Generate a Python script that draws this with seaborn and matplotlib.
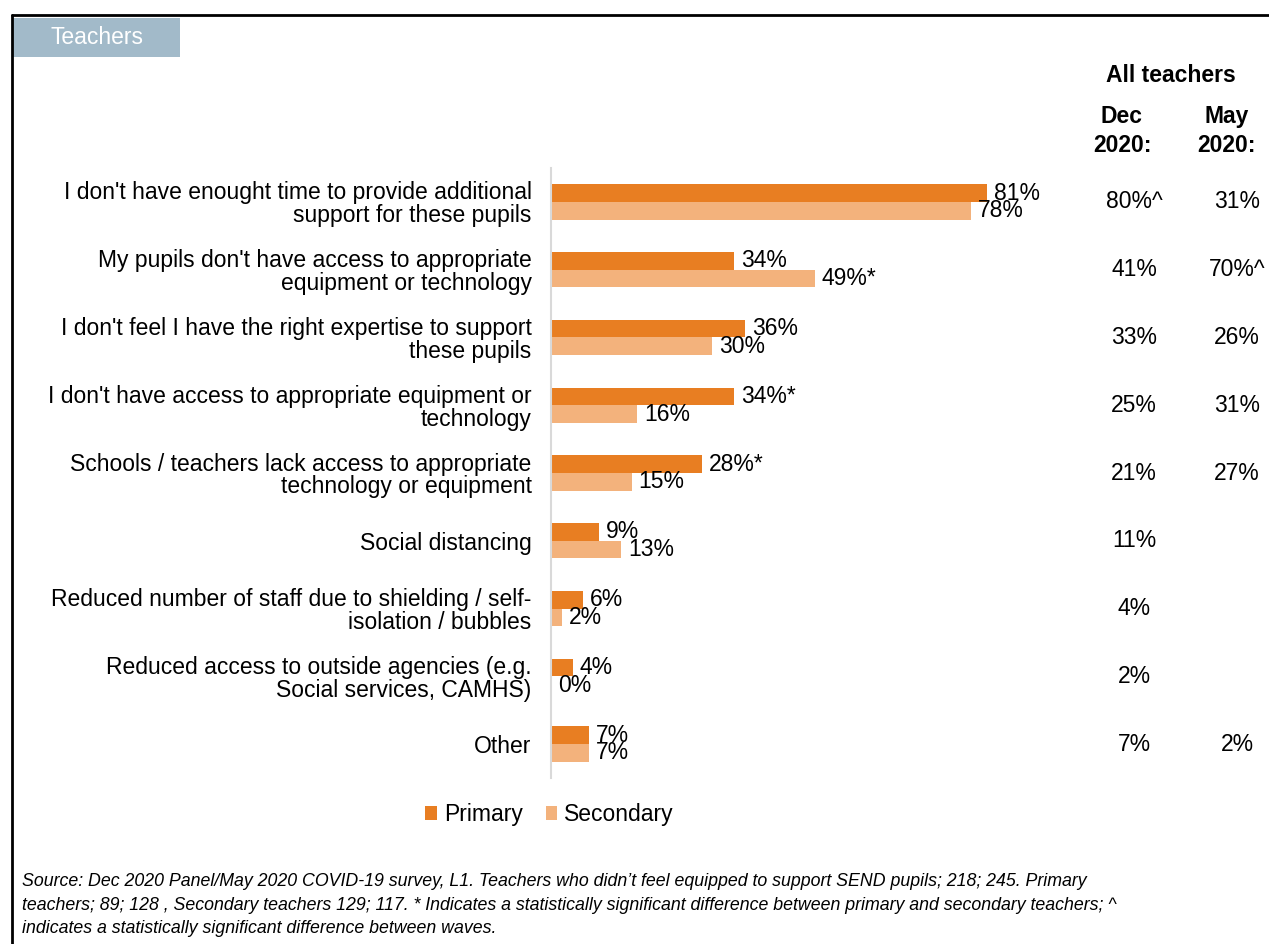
import pandas as pd
import matplotlib.pyplot as plt
import seaborn as sns
from matplotlib.lines import Line2D
from matplotlib.patches import Rectangle
import matplotlib.transforms as mtransforms

# --- Data ---
categories = [
    "I don't have enought time to provide additional\nsupport for these pupils",
    "My pupils don't have access to appropriate\nequipment or technology",
    "I don't feel I have the right expertise to support\nthese pupils",
    "I don't have access to appropriate equipment or\ntechnology",
    "Schools / teachers lack access to appropriate\ntechnology or equipment",
    "Social distancing",
    "Reduced number of staff due to shielding / self-\nisolation / bubbles",
    "Reduced access to outside agencies (e.g.\nSocial services, CAMHS)",
    "Other",
]
primary = [81, 34, 36, 34, 28, 9, 6, 4, 7]
secondary = [78, 49, 30, 16, 15, 13, 2, 0, 7]
primary_labels = ["81%", "34%", "36%", "34%*", "28%*", "9%", "6%", "4%", "7%"]
secondary_labels = ["78%", "49%*", "30%", "16%", "15%", "13%", "2%", "0%", "7%"]
dec_2020 = ["80%^", "41%", "33%", "25%", "21%", "11%", "4%", "2%", "7%"]
may_2020 = ["31%", "70%^", "26%", "31%", "27%", "", "", "", "2%"]

source_note = (
    "Source: Dec 2020 Panel/May 2020 COVID-19 survey, L1. Teachers who didn\u2019t feel equipped to support SEND pupils; 218; 245. Primary\n"
    "teachers; 89; 128 , Secondary teachers 129; 117. * Indicates a statistically significant difference between primary and secondary teachers; ^\n"
    "indicates a statistically significant difference between waves."
)

df = pd.DataFrame({
    "category": categories * 2,
    "value": primary + secondary,
    "group": ["Primary"] * len(categories) + ["Secondary"] * len(categories),
})

sns.set_style("white")
plt.rcParams["font.family"] = ["Liberation Sans", "DejaVu Sans"]
plt.rcParams["text.color"] = "black"
plt.rcParams["ytick.color"] = "black"

FS = 16.5

fig = plt.figure(figsize=(12.69, 9.44), dpi=100)
ax = fig.add_axes([551 / 1269, 1 - 778 / 944, 538 / 1269, 610 / 944])

palette = {"Primary": "#E87E22", "Secondary": "#F3B27C"}
sns.barplot(data=df, x="value", y="category", hue="group", palette=palette,
            orient="h", width=0.52, gap=0, saturation=1, linewidth=0,
            ax=ax, legend=True)

ax.set_xlim(0, 100)
ax.set_ylim(len(categories) - 0.5, -0.5)
ax.set_xlabel("")
ax.set_ylabel("")
ax.set_xticks([])
ax.tick_params(axis="y", length=0, pad=14, labelsize=FS, labelcolor="black")
for lbl in ax.get_yticklabels():
    lbl.set_horizontalalignment("right")
    lbl.set_multialignment("right")
    lbl.set_linespacing(1.0)
for side in ["top", "right", "bottom"]:
    ax.spines[side].set_visible(False)
ax.spines["left"].set_color("#D9D9D9")
ax.spines["left"].set_linewidth(1.5)

ax.bar_label(ax.containers[0], labels=primary_labels, padding=5, fontsize=FS)
ax.bar_label(ax.containers[1], labels=secondary_labels, padding=5, fontsize=FS)

sns.move_legend(ax, "center", bbox_to_anchor=(0.433, 0.137),
                bbox_transform=fig.transFigure, ncol=2, frameon=False,
                title=None, fontsize=FS, handlelength=0.52, handleheight=0.52,
                handletextpad=0.3, columnspacing=1.0)

# --- "All teachers" comparison columns ---
fig.text(1171 / 1269, 1 - 75 / 944, "All teachers", ha="center", va="center",
         fontsize=FS, fontweight="bold")
fig.text(1122 / 1269, 1 - 131 / 944, "Dec\n2020:", ha="center", va="center",
         fontsize=FS, fontweight="bold", linespacing=1.3)
fig.text(1227 / 1269, 1 - 131 / 944, "May\n2020:", ha="center", va="center",
         fontsize=FS, fontweight="bold", linespacing=1.3)

trans = mtransforms.blended_transform_factory(fig.transFigure, ax.transData)
for i, (d, m) in enumerate(zip(dec_2020, may_2020)):
    ax.text(1134 / 1269, i, d, transform=trans, ha="center", va="center", fontsize=FS)
    ax.text(1237 / 1269, i, m, transform=trans, ha="center", va="center", fontsize=FS)

# --- Frame and tab ---
fig.add_artist(Line2D([12 / 1269, 1], [1 - 15 / 944, 1 - 15 / 944],
                      transform=fig.transFigure, color="black", lw=2))
fig.add_artist(Line2D([12 / 1269, 12 / 1269], [1 - 15 / 944, 0],
                      transform=fig.transFigure, color="black", lw=2))
fig.add_artist(Rectangle((13 / 1269, 1 - 57 / 944), 167 / 1269, 39 / 944,
                         transform=fig.transFigure, color="#A2BAC9", lw=0))
fig.text(97 / 1269, 1 - 38 / 944, "Teachers", ha="center", va="center",
         fontsize=FS, color="white")

fig.text(22 / 1269, 1 - 905 / 944, source_note, ha="left", va="center",
         fontsize=12.8, style="italic", linespacing=1.5)

fig.savefig("out.png", dpi=100)
